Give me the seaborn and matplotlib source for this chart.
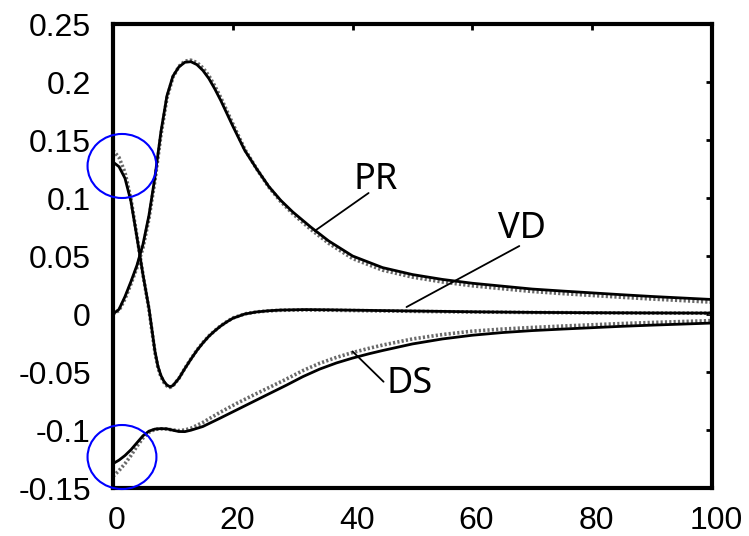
import numpy as np
import pandas as pd
import matplotlib
matplotlib.use("Agg")
import matplotlib.pyplot as plt
from matplotlib.patches import Ellipse
from matplotlib.transforms import ScaledTranslation
import seaborn as sns

# ---------------- data ----------------
pr_x = [0, 1, 2, 3, 4, 5, 6, 7, 8, 9, 10, 11, 12, 13, 14, 15, 16, 17, 18, 20,
        22, 24, 26, 28, 30, 33, 36, 40, 45, 50, 55, 60, 65, 70, 75, 80, 85, 90, 95, 100]
pr_solid = [0.0, 0.004, 0.015, 0.028, 0.042, 0.060, 0.085, 0.118, 0.157, 0.188, 0.205,
            0.213, 0.2170, 0.2175, 0.2150, 0.2100, 0.2030, 0.1940, 0.1840, 0.1620,
            0.1410, 0.1250, 0.1100, 0.0980, 0.0880, 0.0750, 0.0630, 0.0500, 0.0400,
            0.0340, 0.0298, 0.0265, 0.0240, 0.0215, 0.0198, 0.0182, 0.0166, 0.0151,
            0.0138, 0.0125]
pr_dotted = [0.0, 0.003, 0.013, 0.026, 0.040, 0.057, 0.082, 0.115, 0.154, 0.186, 0.204,
             0.2135, 0.2180, 0.2188, 0.2168, 0.2122, 0.2055, 0.1965, 0.1865, 0.1640,
             0.1420, 0.1250, 0.1095, 0.0970, 0.0865, 0.0730, 0.0610, 0.0478, 0.0378,
             0.0318, 0.0276, 0.0243, 0.0218, 0.0194, 0.0176, 0.0160, 0.0144, 0.0129,
             0.0116, 0.0102]

vd_x = [0, 1, 2, 3, 4, 5, 6, 7, 7.5, 8, 8.5, 9, 9.5, 10, 11, 12, 13, 14, 15, 16,
        17, 18, 19, 20, 22, 24, 26, 28, 32, 36, 40, 50, 60, 70, 80, 90, 100]
vd_solid = [0.131, 0.127, 0.117, 0.097, 0.066, 0.034, 0.005, -0.032, -0.045, -0.053,
            -0.058, -0.0612, -0.0627, -0.0617, -0.0555, -0.0470, -0.0390, -0.0315,
            -0.0250, -0.0192, -0.0145, -0.0103, -0.0068, -0.0037, 0.0000, 0.0018,
            0.0028, 0.0034, 0.0038, 0.0036, 0.0033, 0.0026, 0.0019, 0.0014, 0.0011,
            0.0009, 0.0008]
vd_dotted = [0.141, 0.135, 0.122, 0.099, 0.067, 0.034, 0.004, -0.033, -0.046, -0.054,
             -0.059, -0.0620, -0.0633, -0.0620, -0.0555, -0.0468, -0.0388, -0.0312,
             -0.0247, -0.0190, -0.0143, -0.0101, -0.0066, -0.0035, 0.0001, 0.0018,
             0.0027, 0.0032, 0.0035, 0.0033, 0.0030, 0.0023, 0.0017, 0.0013, 0.0010,
             0.0008, 0.0007]

ds_x = [0, 1, 2, 3, 4, 5, 6, 7, 8, 9, 10, 11, 12, 13, 15, 17.8, 20.6, 23.4, 26.2,
        28.9, 31.7, 34.5, 37.3, 40, 42.8, 45, 50, 55, 60, 65, 70, 75, 80, 85, 90, 95, 100]
ds_solid = [-0.129, -0.126, -0.122, -0.117, -0.111, -0.105, -0.101, -0.0992, -0.0988,
            -0.0990, -0.1002, -0.1013, -0.1014, -0.1002, -0.0970, -0.0900, -0.0828,
            -0.0756, -0.0684, -0.0615, -0.0540, -0.0475, -0.0422, -0.0380, -0.0342,
            -0.0315, -0.0258, -0.0215, -0.0183, -0.0160, -0.0143, -0.0130, -0.0118,
            -0.0106, -0.0096, -0.0087, -0.0078]
ds_dotted = [-0.140, -0.135, -0.129, -0.122, -0.114, -0.107, -0.102, -0.0995, -0.0990,
             -0.0992, -0.1000, -0.1005, -0.1000, -0.0985, -0.0935, -0.0850, -0.0772,
             -0.0700, -0.0630, -0.0562, -0.0488, -0.0425, -0.0374, -0.0332, -0.0295,
             -0.0268, -0.0215, -0.0177, -0.0148, -0.0130, -0.0116, -0.0104, -0.0093,
             -0.0082, -0.0073, -0.0065, -0.0057]

x_ticks = [0, 20, 40, 60, 80, 100]
y_ticks = [-0.15, -0.1, -0.05, 0, 0.05, 0.1, 0.15, 0.2, 0.25]
y_tick_labels = ["-0.15", "-0.1", "-0.05", "0", "0.05", "0.1", "0.15", "0.2", "0.25"]

# ---------------- build long-form table ----------------
frames = []
for name, xs, sol, dot in [("PR", pr_x, pr_solid, pr_dotted),
                           ("VD", vd_x, vd_solid, vd_dotted),
                           ("DS", ds_x, ds_solid, ds_dotted)]:
    frames.append(pd.DataFrame({"x": xs, "y": dot, "series": name, "kind": "dotted"}))
    frames.append(pd.DataFrame({"x": xs, "y": sol, "series": name, "kind": "solid"}))
df = pd.concat(frames, ignore_index=True)

# ---------------- plotting ----------------
sns.set_style("white")
plt.rcParams["font.family"] = ["Liberation Sans", "DejaVu Sans"]

fig = plt.figure(figsize=(7.49, 5.36), dpi=100)
ax = fig.add_axes([113 / 749, 1 - 488 / 536, (712 - 113) / 749, (488 - 24) / 536])

for name in ["PR", "VD", "DS"]:
    sub = df[(df.series == name) & (df.kind == "dotted")]
    sns.lineplot(data=sub, x="x", y="y", ax=ax, estimator=None, sort=False,
                 color="#6a6a6a", linewidth=2.6, linestyle=(0, (0.6, 0.6)),
                 legend=False)
for name in ["PR", "VD", "DS"]:
    sub = df[(df.series == name) & (df.kind == "solid")]
    sns.lineplot(data=sub, x="x", y="y", ax=ax, estimator=None, sort=False,
                 color="black", linewidth=2.0, legend=False)

ax.set_xlim(0, 100)
ax.set_ylim(-0.15, 0.25)
ax.set_xticks(x_ticks)
ax.set_xticklabels([str(v) for v in x_ticks])
ax.set_yticks(y_ticks)
ax.set_yticklabels(y_tick_labels)
ax.set_xlabel("")
ax.set_ylabel("")
ax.tick_params(axis="both", direction="in", length=4, width=2, labelsize=23,
               top=True, right=True, colors="black")
ax.tick_params(axis="y", pad=16)
ax.tick_params(axis="x", pad=13)
for lab in ax.get_xticklabels():
    lab.set_transform(lab.get_transform() + ScaledTranslation(0.04, 0, fig.dpi_scale_trans))
for sp in ax.spines.values():
    sp.set_linewidth(3)
    sp.set_color("black")

# labels with leader lines
lab_font = dict(fontsize=26, family=["Noto Sans", "DejaVu Sans"], color="black",
                ha="center", va="center")
ax.text(43.9, 0.1155, "PR", **lab_font)
ax.text(68.3, 0.0737, "VD", **lab_font)
ax.text(49.6, -0.0600, "DS", **lab_font)
leader = dict(arrowstyle="-", color="black", lw=1.3, shrinkA=0, shrinkB=0)
ax.annotate("", xy=(33.67, 0.0716), xytext=(42.67, 0.1043), arrowprops=leader)
ax.annotate("", xy=(49.0, 0.0060), xytext=(67.83, 0.0586), arrowprops=leader)
ax.annotate("", xy=(40.0, -0.0323), xytext=(45.17, -0.0584), arrowprops=leader)

# blue highlight circles
for cy in [0.1276, -0.1233]:
    e = Ellipse((1.5, cy), width=11.5, height=0.0552, fill=False,
                edgecolor="#0000ff", linewidth=1.5, clip_on=False, zorder=5)
    ax.add_patch(e)

fig.savefig("out.png", dpi=100)
